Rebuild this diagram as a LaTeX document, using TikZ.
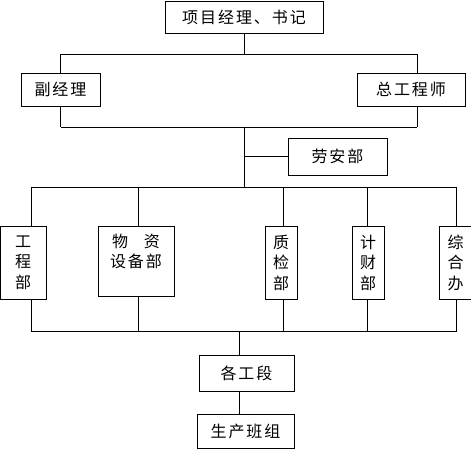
\documentclass[tikz,border=0pt]{standalone}
\usepackage{fontspec}
\setmainfont{Noto Sans CJK SC}[LetterSpace=12]
\usepackage{tikz}

\begin{document}
\begin{tikzpicture}[x=1pt, y=-1pt, line width=0.9pt,
    box/.style={draw, inner sep=0pt, align=center,
                font=\fontsize{16}{20.5}\selectfont},
    col/.style={box, minimum width=32pt, minimum height=73pt}]
  \useasboundingbox (0,0) rectangle (471,449);
  % leadership
  \node[box, minimum width=158pt, minimum height=32pt] (top) at (244,17) {项目经理、书记};
  \node[box, minimum width=79pt, minimum height=33pt] (fu) at (60.5,89.5) {副经理};
  \node[box, minimum width=108pt, minimum height=33pt] (zong) at (411,89.5) {总工程师};
  \node[box, minimum width=99pt, minimum height=37pt] (laoan) at (337.5,156.5) {劳安部};
  % departments
  \node[col, minimum width=45.5pt] (gongcheng) at (23.25,262.5) {工\\程\\部};
  \node[col, minimum width=76pt, minimum height=70pt] (wuzi) at (136,261) {物\hspace{1em}资\\设备部\\\mbox{}};
  \node[col] (zhijian) at (281,262.5) {质\\检\\部};
  \node[col] (jicai) at (368,262.5) {计\\财\\部};
  \node[col] (zonghe) at (455.5,262.5) {综\\合\\办};
  % production
  \node[box, minimum width=95pt, minimum height=36pt] (gedu) at (246.5,373) {各工段};
  \node[box, minimum width=97pt, minimum height=34pt] (banzu) at (245.5,431) {生产班组};
  % bus lines
  \coordinate (busA) at (61,54);
  \coordinate (busB) at (61,127);
  \coordinate (busC) at (31,187);
  \coordinate (busD) at (31,331);
  \draw (top.south) -- (top.south |- busA);
  \draw (busA) -- ([xshift=6pt]zong.north |- busA);
  \draw (fu.north) -- (fu.north |- busA);
  \draw ([xshift=6pt]zong.north) -- ([xshift=6pt]zong.north |- busA);
  \draw (fu.south) -- (fu.south |- busB);
  \draw ([xshift=6pt]zong.south) -- ([xshift=6pt]zong.south |- busB);
  \draw (busB) -- ([xshift=6pt]zong.south |- busB);
  \draw (top.south |- busB) -- (top.south |- busC);
  \draw (laoan.west) -- (laoan.west -| top.south);
  \draw (busC) -- ([xshift=1pt]zonghe.north |- busC);
  \draw (busD) -- ([xshift=1pt]zonghe.south |- busD);
  \foreach \n/\dx in {gongcheng/7.75, wuzi/2, zhijian/2, jicai/-1, zonghe/1}{
    \draw ([xshift=\dx pt]\n.north) -- ([xshift=\dx pt]\n.north |- busC);
    \draw ([xshift=\dx pt]\n.south) -- ([xshift=\dx pt]\n.south |- busD);}
  \draw ([xshift=-7pt]gedu.north) -- ([xshift=-7pt]gedu.north |- busD);
  \draw ([xshift=-6pt]banzu.north) -- ([xshift=-6pt]banzu.north |- gedu.south);
\end{tikzpicture}
\end{document}
